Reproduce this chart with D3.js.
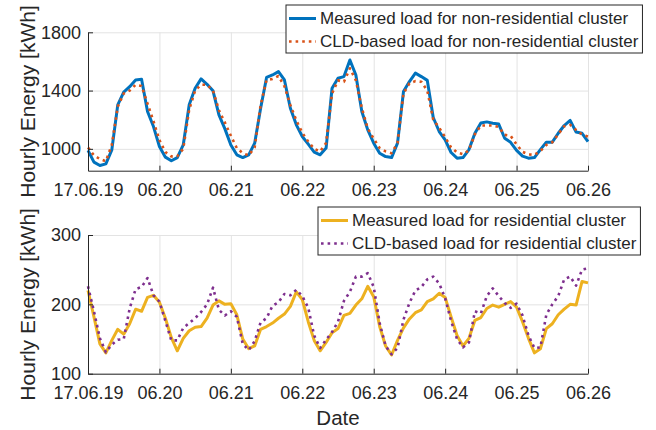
<!DOCTYPE html>
<html>
<head>
<meta charset="utf-8">
<script src="https://cdn.jsdelivr.net/npm/d3@7"></script>
<style>
  body { margin: 0; background: #fff; }
  text { font-family: "Liberation Sans", Arial, sans-serif; fill: #262626; }
</style>
</head>
<body>
<div id="chart"></div>
<script>
// tick labels (first day shown with year)
const dayLabels = ["17.06.19", "06.20", "06.21", "06.22", "06.23", "06.24", "06.25", "06.26"];

// values read every 2 hours, 19.06.2017 00:00 -> 26.06.2017 00:00
const nonResMeasured = [990, 909, 886, 897, 993, 1302, 1389, 1427, 1473, 1478, 1256, 1153,
  1016, 943, 918, 940, 1027, 1302, 1416, 1480, 1443, 1398, 1233, 1137,
  1027, 959, 940, 959, 1039, 1279, 1490, 1507, 1530, 1473, 1279, 1165,
  1085, 1032, 977, 959, 1005, 1416, 1485, 1496, 1610, 1507, 1256, 1130,
  1039, 970, 947, 940, 1039, 1393, 1462, 1520, 1496, 1470, 1215, 1119,
  1062, 975, 936, 940, 995, 1107, 1178, 1185, 1176, 1170, 1073, 1045,
  990, 950, 936, 940, 995, 1046, 1046, 1107, 1160, 1195, 1115, 1107, 1050];

const nonResCLD = [1009, 955, 930, 915, 1027, 1290, 1380, 1400, 1440, 1432, 1310, 1190,
  1060, 978, 948, 950, 1000, 1270, 1400, 1440, 1440, 1400, 1265, 1180,
  1090, 1005, 970, 955, 1010, 1300, 1473, 1480, 1500, 1430, 1300, 1195,
  1110, 1050, 1000, 982, 1040, 1380, 1470, 1460, 1553, 1470, 1280, 1140,
  1070, 1005, 982, 970, 1040, 1380, 1450, 1465, 1460, 1400, 1200, 1145,
  1080, 1010, 975, 963, 990, 1100, 1160, 1160, 1160, 1150, 1096, 1090,
  1030, 980, 962, 959, 985, 1027, 1045, 1100, 1155, 1165, 1130, 1098, 1085];

const resMeasured = [220, 182, 143, 130, 148, 164, 157, 172, 193, 190, 210, 213,
  203, 180, 152, 133, 151, 162, 167, 168, 180, 199, 205, 200,
  201, 185, 150, 136, 140, 164, 168, 173, 180, 186, 197, 218,
  207, 175, 148, 133, 145, 159, 165, 184, 187, 199, 208, 226,
  211, 168, 140, 127, 148, 166, 179, 188, 192, 204, 208, 216,
  210, 182, 155, 140, 151, 177, 181, 194, 199, 196, 200, 204,
  196, 175, 151, 130, 136, 165, 172, 185, 193, 200, 199, 233, 231];

const resCLD = [226, 190, 151, 131, 142, 149, 150, 194, 222, 225, 238, 213,
  204, 176, 148, 148, 166, 173, 180, 189, 200, 224, 192, 184,
  190, 182, 143, 134, 147, 174, 180, 198, 203, 215, 213, 221,
  212, 195, 155, 137, 149, 160, 175, 205, 218, 240, 240, 245,
  225, 173, 140, 128, 137, 178, 202, 220, 225, 236, 240, 230,
  209, 176, 150, 138, 145, 190, 187, 212, 223, 212, 202, 195,
  201, 184, 155, 137, 138, 185, 200, 212, 236, 240, 227, 250, 252];

const startDate = new Date(2017, 5, 19);
const endDate = new Date(2017, 5, 26);
const days = d3.timeDay.range(startDate, d3.timeDay.offset(endDate, 1));
const toSeries = vals => vals.map((v, i) => ({t: d3.timeHour.offset(startDate, 2 * i), v: v}));

const svg = d3.select("#chart").append("svg")
  .attr("width", 656)
  .attr("height", 430);

const left = 88, right = 588;
const x = d3.scaleTime().domain([startDate, endDate]).range([left, right]);

function drawPanel(opts) {
  const y = d3.scaleLinear().domain(opts.domain).range([opts.bottom, opts.top]);
  const g = svg.append("g");

  // grid
  g.append("g")
    .attr("transform", `translate(0,${opts.bottom})`)
    .call(d3.axisBottom(x).tickValues(days).tickSize(-(opts.bottom - opts.top)).tickFormat(""))
    .call(s => s.select(".domain").remove())
    .selectAll("line").attr("stroke", "#e3e3e3");
  g.append("g")
    .attr("transform", `translate(${left},0)`)
    .call(d3.axisLeft(y).tickValues(opts.ticks).tickSize(-(right - left)).tickFormat(""))
    .call(s => s.select(".domain").remove())
    .selectAll("line").attr("stroke", "#e3e3e3");

  // lines
  opts.series.forEach(s => {
    g.append("path")
      .datum(toSeries(s.values))
      .attr("fill", "none")
      .attr("stroke", s.color)
      .attr("stroke-width", s.width)
      .attr("stroke-dasharray", s.dash)
      .attr("stroke-linejoin", "round")
      .attr("d", d3.line().x(d => x(d.t)).y(d => y(d.v)));
  });

  // axes (inward ticks)
  const xa = g.append("g")
    .attr("transform", `translate(0,${opts.bottom})`)
    .call(d3.axisBottom(x).tickValues(days).tickSizeInner(-5).tickSizeOuter(0).tickPadding(12.5)
      .tickFormat((d, i) => dayLabels[i]));
  const ya = g.append("g")
    .attr("transform", `translate(${left},0)`)
    .call(d3.axisLeft(y).tickValues(opts.ticks).tickSizeInner(-5).tickSizeOuter(0).tickPadding(7)
      .tickFormat(d3.format("d")));
  [xa, ya].forEach(a => {
    a.selectAll("text").style("font-size", "18px").attr("fill", "#262626");
    a.selectAll("line, .domain").attr("stroke", "#262626");
  });

  g.append("text")
    .attr("transform", "rotate(-90)")
    .attr("x", -(opts.top + opts.bottom) / 2)
    .attr("y", 35)
    .attr("text-anchor", "middle")
    .style("font-size", "21px")
    .text("Hourly Energy [kWh]");

  // legend
  const lg = svg.append("g").attr("transform", `translate(${opts.legendX},${opts.legendY})`);
  const box = lg.append("rect").attr("fill", "#fff").attr("stroke", "#262626").attr("stroke-width", 1);
  let maxW = 0;
  opts.series.forEach((s, i) => {
    const yy = 13.5 + i * 23;
    lg.append("line")
      .attr("x1", 3).attr("x2", 30).attr("y1", yy).attr("y2", yy)
      .attr("stroke", s.color).attr("stroke-width", s.width).attr("stroke-dasharray", s.dash);
    const t = lg.append("text")
      .attr("x", 34).attr("y", yy).attr("dy", "0.35em")
      .style("font-size", "17px")
      .text(s.name);
    maxW = Math.max(maxW, t.node().getComputedTextLength());
  });
  box.attr("x", 0).attr("y", 0).attr("width", maxW + 38).attr("height", 48);
}

drawPanel({
  top: 32.3, bottom: 170.7, domain: [850, 1800], ticks: [1000, 1400, 1800],
  legendX: 286, legendY: 5,
  series: [
    {name: "Measured load for non-residential cluster", values: nonResMeasured, color: "#0072BD", width: 3, dash: null},
    {name: "CLD-based load for non-residential cluster", values: nonResCLD, color: "#D95319", width: 2.6, dash: "2.6 4"}
  ]
});

drawPanel({
  top: 235, bottom: 373.7, domain: [100, 300], ticks: [100, 200, 300],
  legendX: 318, legendY: 207,
  series: [
    {name: "Measured load for residential cluster", values: resMeasured, color: "#EDB120", width: 3, dash: null},
    {name: "CLD-based load for residential cluster", values: resCLD, color: "#7E2F8E", width: 2.6, dash: "2.6 4"}
  ]
});

svg.append("text")
  .attr("x", (left + right) / 2)
  .attr("y", 425)
  .attr("text-anchor", "middle")
  .style("font-size", "20.5px")
  .text("Date");
</script>
</body>
</html>
